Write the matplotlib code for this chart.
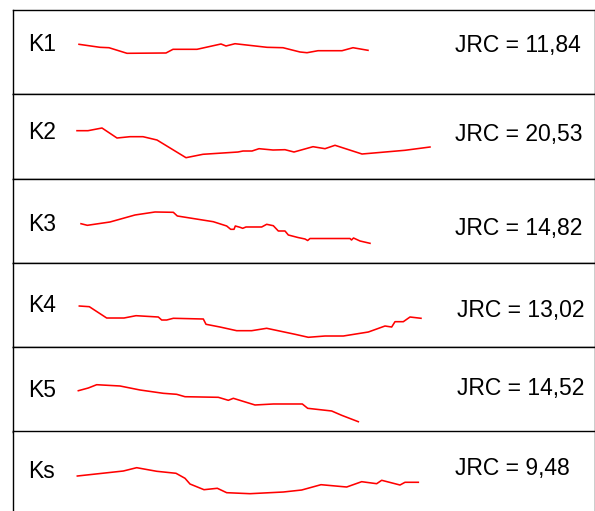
import matplotlib
matplotlib.use("Agg")
import matplotlib.pyplot as plt

plt.rcParams['font.family'] = ['Liberation Sans', 'DejaVu Sans']

# Profile data: distance along profile (mm) and height (mm)
labels = ["K1", "K2", "K3", "K4", "K5", "Ks"]
jrc_values = ["11,84", "20,53", "14,82", "13,02", "14,52", "9,48"]

k1_x = [0.5, 5.75, 8.0, 12.5, 22.25, 24.0, 30.0, 36.0, 37.25, 39.5, 47.5, 51.5, 55.75, 57.5, 60.25, 66.25, 69.0, 72.75]
k1_y = [1.96, 1.21, 1.11, -0.29, -0.21, 0.71, 0.71, 2.04, 1.54, 2.11, 1.21, 1.11, 0.04, -0.14, 0.36, 0.36, 1.11, 0.46]

k2_x = [0, 2.75, 6.25, 10.0, 13.25, 16.5, 20.0, 27.25, 31.5, 40.25, 41.5, 43.75, 45.5, 49.0, 52.0, 54.25, 59.0, 62.0, 64.5, 71.25, 82.0, 88.25]
k2_y = [1.44, 1.44, 2.11, -0.39, -0.06, -0.06, -0.89, -5.31, -4.46, -3.89, -3.64, -3.64, -3.06, -3.39, -3.31, -3.89, -2.56, -3.06, -2.21, -4.39, -3.46, -2.64]

k3_x = [1.0, 2.58, 8.25, 14.5, 19.5, 24.08, 25.08, 34.08, 37.42, 38.42, 39.25, 39.58, 40.75, 41.42, 42.25, 46.17, 47.42, 49.08, 50.33, 52.0, 52.83, 55.25, 57.0, 57.67, 58.25, 68.25, 68.63, 69.13, 70.75, 73.25]
k3_y = [-0.74, -1.14, -0.31, 1.44, 2.19, 2.11, 1.19, -0.24, -1.31, -2.14, -2.14, -1.31, -1.64, -1.89, -1.56, -1.56, -0.89, -1.24, -2.56, -2.56, -3.56, -4.19, -4.56, -4.94, -4.44, -4.44, -4.81, -4.31, -5.06, -5.64]

k4_x = [0.58, 3.08, 7.42, 11.75, 14.75, 20.33, 21.17, 22.42, 24.08, 31.58, 32.25, 35.75, 39.92, 43.67, 47.42, 54.5, 57.83, 62.0, 66.58, 72.83, 77.0, 78.67, 79.5, 81.58, 83.25, 86.0]
k4_y = [-0.24, -0.41, -3.24, -3.24, -2.66, -2.99, -3.74, -3.74, -3.31, -3.49, -4.81, -5.49, -6.41, -6.41, -5.81, -7.31, -8.06, -7.74, -7.74, -6.74, -5.24, -5.49, -4.16, -4.16, -2.99, -3.31]

k5_x = [0.33, 2.83, 4.92, 10.75, 15.75, 21.58, 24.92, 27.0, 35.33, 37.83, 39.08, 44.5, 49.08, 56.33, 57.67, 63.67, 66.17, 70.33]
k5_y = [-0.34, 0.34, 1.16, 0.84, -0.16, -0.99, -1.24, -1.84, -1.99, -2.74, -2.24, -3.91, -3.66, -3.66, -4.74, -5.41, -6.49, -8.09]

ks_x = [0.08, 11.58, 14.92, 19.92, 24.75, 27.0, 28.25, 31.75, 35.08, 37.42, 43.25, 51.58, 56.17, 61.0, 67.42, 71.17, 74.92, 76.17, 80.75, 82.0, 85.33]
ks_y = [-0.59, 0.66, 1.49, 0.59, 0.09, -1.16, -2.59, -4.01, -3.66, -4.76, -5.01, -4.59, -4.09, -2.76, -3.34, -2.01, -2.51, -1.66, -2.84, -2.16, -2.16]

profiles = [(k1_x, k1_y), (k2_x, k2_y), (k3_x, k3_y), (k4_x, k4_y), (k5_x, k5_y), (ks_x, ks_y)]

# layout (baseline positions in axes fraction)
label_base = [0.514, 0.466, 0.378, 0.414, 0.409, 0.452]
jrc_base = [0.505, 0.45, 0.331, 0.355, 0.429, 0.484]
jrc_xpos = [0.760, 0.760, 0.760, 0.763, 0.763, 0.760]

W, H = 595, 511
fig = plt.figure(figsize=(W / 100, H / 100), dpi=100)
fig.patch.set_facecolor('white')

top_px = 10.0
row_h = 84.3
left_px = 12.5
width_px = 582.0

for i, (lab, jrc, (px, py)) in enumerate(zip(labels, jrc_values, profiles)):
    bottom = 1 - (top_px + row_h * (i + 1)) / H
    ax = fig.add_axes([left_px / W, bottom, width_px / W, row_h / H])
    ax.plot(px, py, color='#ff0000', linewidth=1.15, solid_joinstyle='round')
    ax.set_xlim(-16.125, 129.375)
    ax.set_ylim(-10.5375, 10.5375)
    ax.set_xticks([])
    ax.set_yticks([])
    for sp in ax.spines.values():
        sp.set_linewidth(1.0)
        sp.set_color('black')
    ax.text(0.0266, label_base[i], lab, transform=ax.transAxes, fontsize=16.5,
            ha='left', va='baseline', color='black')
    ax.text(jrc_xpos[i], jrc_base[i], f"JRC = {jrc}", transform=ax.transAxes,
            fontsize=16.5, ha='left', va='baseline', color='black')

fig.savefig("out.png", dpi=100, facecolor='white')
